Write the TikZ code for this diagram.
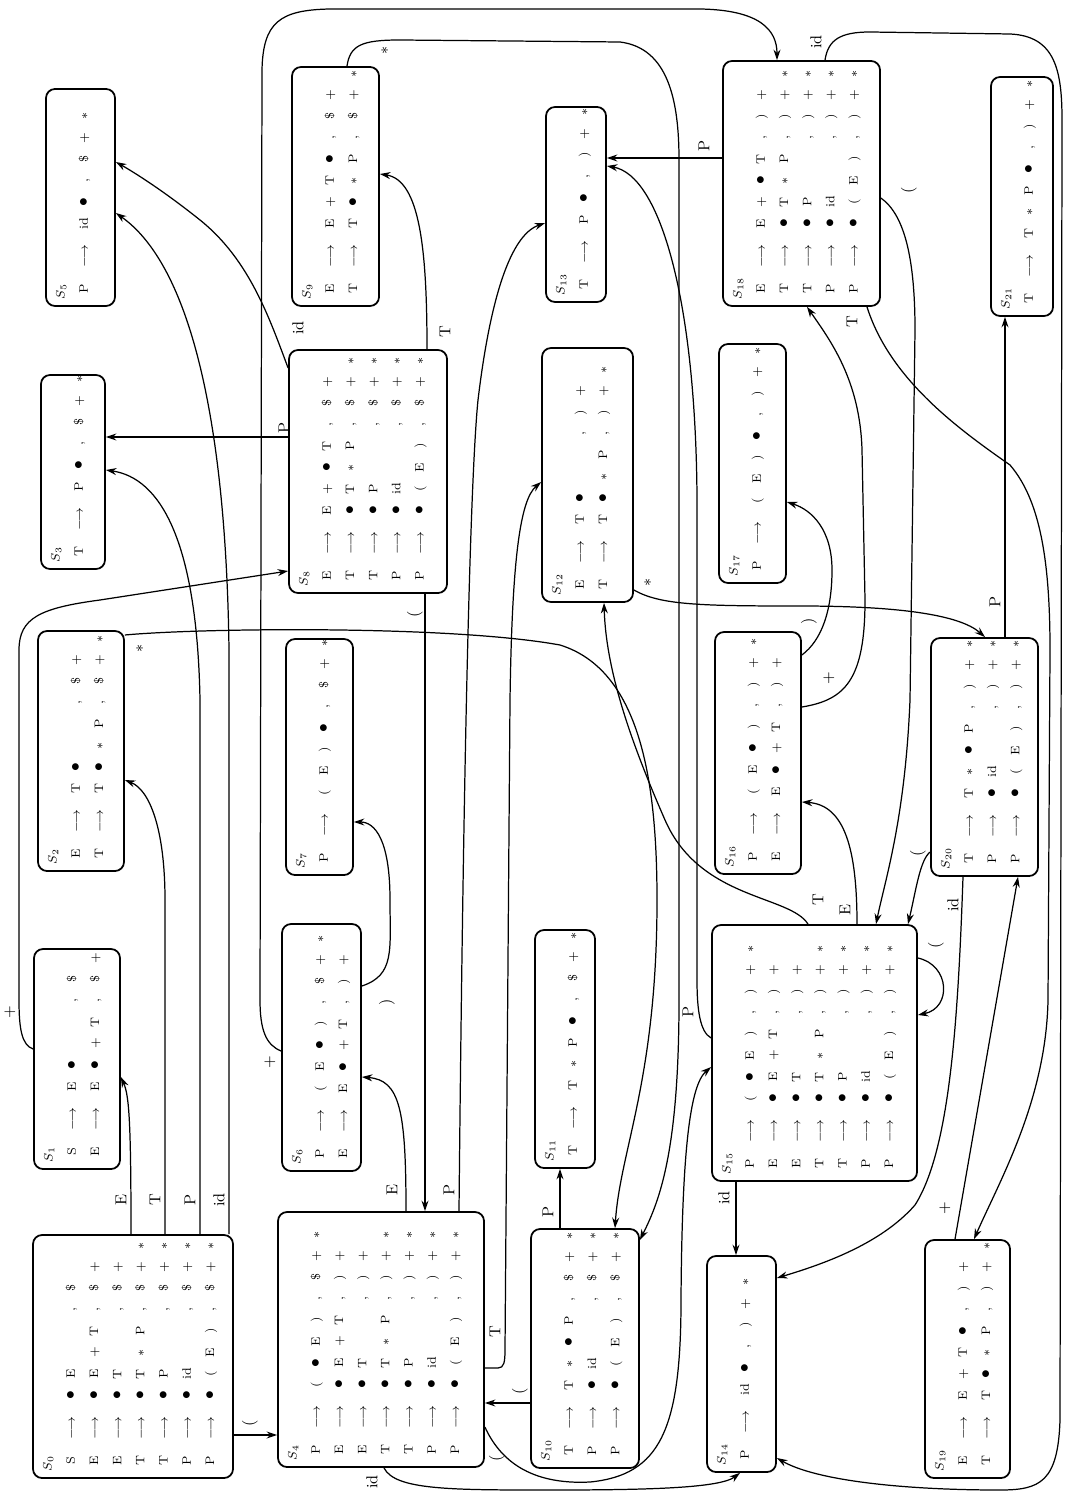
\documentclass[tikz,border=0pt]{standalone}
\usepackage{tikz}
\usetikzlibrary{arrows.meta, fit}

% item layout: LHS, arrow, four body slots, comma, three lookaheads
\newlength{\slw}
\setlength{\slw}{12.2pt}
\newcommand{\DOT}{{\normalsize$\bullet$}}
\newcommand{\STAR}{$*$}
\newcommand{\BL}{}
\newcommand{\cellx}[1]{\if\relax\detokenize{#1}\relax\else\makebox[\slw]{#1}\fi}
\newcommand{\itm}[8]{\makebox[\slw]{#1}\makebox[25pt]{$\longrightarrow$}\cellx{#2}\cellx{#3}\cellx{#4}\cellx{#5}\makebox[\slw]{,}\cellx{#6}\cellx{#7}\cellx{#8}}
\renewcommand{\arraystretch}{1.65}

\begin{document}
\begin{tikzpicture}[x=0.02cm, y=-0.02cm, >={Stealth[length=6pt,width=4pt]},
		state/.style={draw, line width=1pt, rounded corners=0.18cm, inner sep=0pt},
		items/.style={rotate=90, anchor=north west, inner sep=0pt, font=\scriptsize},
		lab/.style={rotate=90, inner sep=1pt, font=\small},
		tr/.style={->, line width=0.7pt}]

		\useasboundingbox (0,0) rectangle (1072,1496);

		% States, column 1
		\node[state, fit={(33,1235) (233,1478)}] (S0) {};
		\node[items] (S0t) at ([shift={(3,-7)}]S0.south west) {\begin{tabular}{@{}l@{}}$S_{0}$\\
			\itm{S}{\DOT}{E}{\BL}{\BL}{\$}{}{}\\
			\itm{E}{\DOT}{E}{+}{T}{\$}{+}{}\\
			\itm{E}{\DOT}{T}{\BL}{\BL}{\$}{+}{}\\
			\itm{T}{\DOT}{T}{\STAR}{P}{\$}{+}{\STAR}\\
			\itm{T}{\DOT}{P}{\BL}{\BL}{\$}{+}{\STAR}\\
			\itm{P}{\DOT}{id}{\BL}{\BL}{\$}{+}{\STAR}\\
			\itm{P}{\DOT}{(}{E}{)}{\$}{+}{\STAR}\end{tabular}};
		\node[state, fit={(34,949) (120,1169)}] (S1) {};
		\node[items] (S1t) at ([shift={(3,-7)}]S1.south west) {\begin{tabular}{@{}l@{}}$S_{1}$\\
			\itm{S}{E}{\DOT}{\BL}{\BL}{\$}{}{}\\
			\itm{E}{E}{\DOT}{+}{T}{\$}{+}{}\end{tabular}};
		\node[state, fit={(38,631) (124,871)}] (S2) {};
		\node[items] (S2t) at ([shift={(3,-7)}]S2.south west) {\begin{tabular}{@{}l@{}}$S_{2}$\\
			\itm{E}{T}{\DOT}{\BL}{\BL}{\$}{+}{}\\
			\itm{T}{T}{\DOT}{\STAR}{P}{\$}{+}{\STAR}\end{tabular}};
		\node[state, fit={(41,375) (105,569)}] (S3) {};
		\node[items] (S3t) at ([shift={(3,-7)}]S3.south west) {\begin{tabular}{@{}l@{}}$S_{3}$\\
			\itm{T}{P}{\DOT}{}{}{\$}{+}{\STAR}\end{tabular}};
		\node[state, fit={(46,89) (115,306)}] (S5) {};
		\node[items] (S5t) at ([shift={(3,-7)}]S5.south west) {\begin{tabular}{@{}l@{}}$S_{5}$\\
			\itm{P}{id}{\DOT}{}{}{\$}{+}{\STAR}\end{tabular}};

		% States, column 2
		\node[state, fit={(278,1212) (484,1467)}] (S4) {};
		\node[items] (S4t) at ([shift={(3,-7)}]S4.south west) {\begin{tabular}{@{}l@{}}$S_{4}$\\
			\itm{P}{(}{\DOT}{E}{)}{\$}{+}{\STAR}\\
			\itm{E}{\DOT}{E}{+}{T}{)}{+}{}\\
			\itm{E}{\DOT}{T}{\BL}{\BL}{)}{+}{}\\
			\itm{T}{\DOT}{T}{\STAR}{P}{)}{+}{\STAR}\\
			\itm{T}{\DOT}{P}{\BL}{\BL}{)}{+}{\STAR}\\
			\itm{P}{\DOT}{id}{\BL}{\BL}{)}{+}{\STAR}\\
			\itm{P}{\DOT}{(}{E}{)}{)}{+}{\STAR}\end{tabular}};
		\node[state, fit={(282,924) (361,1171)}] (S6) {};
		\node[items] (S6t) at ([shift={(3,-7)}]S6.south west) {\begin{tabular}{@{}l@{}}$S_{6}$\\
			\itm{P}{(}{E}{\DOT}{)}{\$}{+}{\STAR}\\
			\itm{E}{E}{\DOT}{+}{T}{)}{+}{}\end{tabular}};
		\node[state, fit={(286,639) (353,875)}] (S7) {};
		\node[items] (S7t) at ([shift={(3,-7)}]S7.south west) {\begin{tabular}{@{}l@{}}$S_{7}$\\
			\itm{P}{(}{E}{)}{\DOT}{\$}{+}{\STAR}\end{tabular}};
		\node[state, fit={(289,350) (447,593)}] (S8) {};
		\node[items] (S8t) at ([shift={(3,-7)}]S8.south west) {\begin{tabular}{@{}l@{}}$S_{8}$\\
			\itm{E}{E}{+}{\DOT}{T}{\$}{+}{}\\
			\itm{T}{\DOT}{T}{\STAR}{P}{\$}{+}{\STAR}\\
			\itm{T}{\DOT}{P}{\BL}{\BL}{\$}{+}{\STAR}\\
			\itm{P}{\DOT}{id}{\BL}{\BL}{\$}{+}{\STAR}\\
			\itm{P}{\DOT}{(}{E}{)}{\$}{+}{\STAR}\end{tabular}};
		\node[state, fit={(292,67) (379,306)}] (S9) {};
		\node[items] (S9t) at ([shift={(3,-7)}]S9.south west) {\begin{tabular}{@{}l@{}}$S_{9}$\\
			\itm{E}{E}{+}{T}{\DOT}{\$}{+}{}\\
			\itm{T}{T}{\DOT}{\STAR}{P}{\$}{+}{\STAR}\end{tabular}};

		% States, column 3
		\node[state, fit={(531,1229) (639,1468)}] (S10) {};
		\node[items] (S10t) at ([shift={(3,-7)}]S10.south west) {\begin{tabular}{@{}l@{}}$S_{10}$\\
			\itm{T}{T}{\STAR}{\DOT}{P}{\$}{+}{\STAR}\\
			\itm{P}{\DOT}{id}{\BL}{\BL}{\$}{+}{\STAR}\\
			\itm{P}{\DOT}{(}{E}{)}{\$}{+}{\STAR}\end{tabular}};
		\node[state, fit={(535,930) (595,1168)}] (S11) {};
		\node[items] (S11t) at ([shift={(3,-7)}]S11.south west) {\begin{tabular}{@{}l@{}}$S_{11}$\\
			\itm{T}{T}{\STAR}{P}{\DOT}{\$}{+}{\STAR}\end{tabular}};
		\node[state, fit={(542,348) (633,602)}] (S12) {};
		\node[items] (S12t) at ([shift={(3,-7)}]S12.south west) {\begin{tabular}{@{}l@{}}$S_{12}$\\
			\itm{E}{T}{\DOT}{\BL}{\BL}{)}{+}{}\\
			\itm{T}{T}{\DOT}{\STAR}{P}{)}{+}{\STAR}\end{tabular}};
		\node[state, fit={(546,107) (606,302)}] (S13) {};
		\node[items] (S13t) at ([shift={(3,-7)}]S13.south west) {\begin{tabular}{@{}l@{}}$S_{13}$\\
			\itm{T}{P}{\DOT}{}{}{)}{+}{\STAR}\end{tabular}};

		% States, column 4
		\node[state, fit={(707,1256) (776,1472)}] (S14) {};
		\node[items] (S14t) at ([shift={(3,-7)}]S14.south west) {\begin{tabular}{@{}l@{}}$S_{14}$\\
			\itm{P}{id}{\DOT}{}{}{)}{+}{\STAR}\end{tabular}};
		\node[state, fit={(712,925) (917,1181)}] (S15) {};
		\node[items] (S15t) at ([shift={(3,-7)}]S15.south west) {\begin{tabular}{@{}l@{}}$S_{15}$\\
			\itm{P}{(}{\DOT}{E}{)}{)}{+}{\STAR}\\
			\itm{E}{\DOT}{E}{+}{T}{)}{+}{}\\
			\itm{E}{\DOT}{T}{\BL}{\BL}{)}{+}{}\\
			\itm{T}{\DOT}{T}{\STAR}{P}{)}{+}{\STAR}\\
			\itm{T}{\DOT}{P}{\BL}{\BL}{)}{+}{\STAR}\\
			\itm{P}{\DOT}{id}{\BL}{\BL}{)}{+}{\STAR}\\
			\itm{P}{\DOT}{(}{E}{)}{)}{+}{\STAR}\end{tabular}};
		\node[state, fit={(715,632) (801,874)}] (S16) {};
		\node[items] (S16t) at ([shift={(3,-7)}]S16.south west) {\begin{tabular}{@{}l@{}}$S_{16}$\\
			\itm{P}{(}{E}{\DOT}{)}{)}{+}{\STAR}\\
			\itm{E}{E}{\DOT}{+}{T}{)}{+}{}\end{tabular}};
		\node[state, fit={(719,344) (786,583)}] (S17) {};
		\node[items] (S17t) at ([shift={(3,-7)}]S17.south west) {\begin{tabular}{@{}l@{}}$S_{17}$\\
			\itm{P}{(}{E}{)}{\DOT}{)}{+}{\STAR}\end{tabular}};
		\node[state, fit={(723,61) (880,306)}] (S18) {};
		\node[items] (S18t) at ([shift={(3,-7)}]S18.south west) {\begin{tabular}{@{}l@{}}$S_{18}$\\
			\itm{E}{E}{+}{\DOT}{T}{)}{+}{}\\
			\itm{T}{\DOT}{T}{\STAR}{P}{)}{+}{\STAR}\\
			\itm{T}{\DOT}{P}{\BL}{\BL}{)}{+}{\STAR}\\
			\itm{P}{\DOT}{id}{\BL}{\BL}{)}{+}{\STAR}\\
			\itm{P}{\DOT}{(}{E}{)}{)}{+}{\STAR}\end{tabular}};

		% States, column 5
		\node[state, fit={(925,1240) (1010,1478)}] (S19) {};
		\node[items] (S19t) at ([shift={(3,-7)}]S19.south west) {\begin{tabular}{@{}l@{}}$S_{19}$\\
			\itm{E}{E}{+}{T}{\DOT}{)}{+}{}\\
			\itm{T}{T}{\DOT}{\STAR}{P}{)}{+}{\STAR}\end{tabular}};
		\node[state, fit={(931,638) (1038,876)}] (S20) {};
		\node[items] (S20t) at ([shift={(3,-7)}]S20.south west) {\begin{tabular}{@{}l@{}}$S_{20}$\\
			\itm{T}{T}{\STAR}{\DOT}{P}{)}{+}{\STAR}\\
			\itm{P}{\DOT}{id}{\BL}{\BL}{)}{+}{\STAR}\\
			\itm{P}{\DOT}{(}{E}{)}{)}{+}{\STAR}\end{tabular}};
		\node[state, fit={(991,77) (1053,316)}] (S21) {};
		\node[items] (S21t) at ([shift={(3,-7)}]S21.south west) {\begin{tabular}{@{}l@{}}$S_{21}$\\
			\itm{T}{T}{\STAR}{P}{\DOT}{)}{+}{\STAR}\end{tabular}};

		% Transitions out of S0
		\draw[tr] (S0.north -| 131,0) .. controls (131,1120) and (129,1095) .. (S1.east |- 0,1077);
		\draw[tr] (S0.north -| 165,0) -- (165,900) .. controls (165,830) and (150,790) .. (S2.east |- 0,780);
		\draw[tr] (S0.north -| 200,0) -- (200,700) .. controls (197,540) and (160,478) .. (S3.east |- 0,470);
		\draw[tr] (S0.north -| 229,0) -- (229,650) .. controls (226,420) and (190,265) .. (S5.east |- 0,213);
		\draw[tr] (S0.east |- 0,1435) -- (S4.west |- 0,1435);
		\node[lab] (l0E) at (121,1200) {E};
		\node[lab] (l0T) at (155,1200) {T};
		\node[lab] (l0P) at (190,1200) {P};
		\node[lab] (l0id) at (219,1200) {id};
		\node[lab] (l0lp) at (250,1423) {(};

		% S1, S2, S9
		\draw[tr] (S1.west |- 0,1049) .. controls (22,1045) and (19,1030) .. (19,1000) -- (19,650) .. controls (19,618) and (40,608) .. (100,600) -- (S8.west |- 0,571);
		\draw[tr] (S2.east |- 0,635) .. controls (200,628) and (450,625) .. (560,645) .. controls (640,670) and (657,780) .. (657,900) .. controls (657,1080) and (620,1150) .. (S10.north -| 615,0);
		\draw[tr] (S9.north -| 347,0) .. controls (350,45) and (362,40) .. (400,40) -- (620,42) .. controls (668,48) and (679,100) .. (679,160) -- (679,1000) .. controls (679,1150) and (660,1200) .. (S10.east |- 0,1240);
		\node[lab] (l1p) at (10,1012) {+};
		\node[lab] (l2s) at (140,648) {\STAR};
		\node[lab] (l9s) at (385,50) {\STAR};

		% Transitions out of S4
		\draw[tr] (S4.north -| 406,0) .. controls (406,1110) and (400,1080) .. (S6.east |- 0,1077);
		\draw[tr] (S4.north -| 459,0) .. controls (462,900) and (468,500) .. (478,400) .. controls (490,300) and (510,235) .. (S13.west |- 0,223);
		\draw[tr] (S4.east |- 0,1368) -- (498,1368) .. controls (504,1368) and (505,1362) .. (505,1350) -- (510,700) .. controls (512,560) and (520,500) .. (S12.west |- 0,482);
		\draw[tr] (S4.south -| 384,0) .. controls (395,1490) and (450,1490) .. (550,1490) .. controls (650,1490) and (720,1488) .. (S14.south -| 740,0);
		\draw[tr] (S4.east |- 0,1427) .. controls (500,1460) and (530,1485) .. (590,1482) .. controls (660,1475) and (681,1430) .. (681,1300) .. controls (682,1150) and (690,1085) .. (S15.west |- 0,1067);
		\node[lab] (l4E) at (392,1190) {E};
		\node[lab] (l4P) at (449,1190) {P};
		\node[lab] (l4T) at (495,1332) {T};
		\node[lab] (l4id) at (372,1482) {id};
		\node[lab] (l4lp) at (497,1458) {(};

		% S6, S8, S10, S12
		\draw[tr] (S6.east |- 0,986) .. controls (395,975) and (390,950) .. (390,900) .. controls (390,840) and (375,822) .. (S7.east |- 0,822);
		\draw[tr] (S6.west |- 0,1051) .. controls (266,1045) and (260,1030) .. (260,1000) -- (262,70) .. controls (263,22) and (280,10) .. (330,9) -- (700,9) .. controls (760,10) and (777,30) .. (S18.north -| 777,0);
		\draw[tr] (S8.north -| 427,0) .. controls (427,250) and (420,180) .. (S9.east |- 0,174);
		\draw[tr] (S8.west |- 0,437) -- (S3.east |- 0,437);
		\draw[tr] (S8.west |- 0,368) .. controls (270,320) and (250,260) .. (200,220) .. controls (160,188) and (130,170) .. (S5.east |- 0,162);
		\draw[tr] (S8.south -| 425,0) -- (S4.north -| 425,0);
		\draw[tr] (S10.north -| 560,0) -- (S11.south -| 560,0);
		\draw[tr] (S10.west |- 0,1403) -- (S4.east |- 0,1403);
		\draw[tr] (S12.east |- 0,590) .. controls (660,605) and (700,606) .. (800,606) .. controls (900,606) and (960,615) .. (S20.north -| 985,0);
		\node[lab] (l6rp) at (387,1002) {)};
		\node[lab] (l6p) at (270,1062) {+};
		\node[lab] (l8id) at (298,328) {id};
		\node[lab] (l8T) at (445,332) {T};
		\node[lab] (l8P) at (284,428) {P};
		\node[lab] (l8lp) at (415,614) {(};
		\node[lab] (l10P) at (548,1212) {P};
		\node[lab] (l10lp) at (520,1391) {(};
		\node[lab] (l12s) at (648,582) {\STAR};

		% Transitions out of S15
		\draw[tr] (S15.north -| 857,0) .. controls (857,850) and (845,805) .. (S16.east |- 0,802);
		\draw[tr] (S15.north -| 808,0) .. controls (790,895) and (700,900) .. (665,820) .. controls (630,740) and (606,670) .. (S12.south -| 604,0);
		\draw[tr] (S15.west |- 0,1038) .. controls (700,1032) and (697,1010) .. (697,980) -- (697,500) .. controls (696,300) and (660,175) .. (S13.east |- 0,166);
		\draw[tr] (S15.south -| 736,0) -- (S14.north -| 736,0);
		\draw[tr] (S15.east |- 0,958) .. controls (950,965) and (952,1008) .. (S15.east |- 0,1015);
		\node[lab] (l15E) at (845,910) {E};
		\node[lab] (l15T) at (818,900) {T};
		\node[lab] (l15P) at (688,1012) {P};
		\node[lab] (l15id) at (724,1198) {id};
		\node[lab] (l15lp) at (936,945) {(};

		% S16, S18
		\draw[tr] (S16.east |- 0,655) .. controls (822,640) and (832,610) .. (832,570) .. controls (832,530) and (812,510) .. (S17.east |- 0,502);
		\draw[tr] (S16.east |- 0,707) .. controls (845,700) and (865,680) .. (865,600) -- (862,450) .. controls (860,380) and (830,340) .. (S18.south -| 807,0);
		\draw[tr] (S18.west |- 0,158) -- (S13.east |- 0,158);
		\draw[tr] (S18.north -| 825,0) .. controls (828,40) and (840,32) .. (870,32) -- (1010,34) .. controls (1055,36) and (1062,70) .. (1062,120) -- (1060,1420) .. controls (1058,1482) and (1040,1490) .. (1000,1490) .. controls (900,1490) and (815,1480) .. (S14.east |- 0,1458);
		\draw[tr] (S18.east |- 0,198) .. controls (905,215) and (915,260) .. (915,330) -- (910,700) .. controls (905,820) and (885,880) .. (S15.north -| 876,0);
		\draw[tr] (S18.south -| 867,0) .. controls (890,380) and (960,430) .. (1010,465) .. controls (1040,500) and (1050,560) .. (1050,650) -- (1048,1000) .. controls (1046,1100) and (1000,1180) .. (S19.north -| 974,0);
		\node[lab] (l16rp) at (809,621) {)};
		\node[lab] (l16p) at (829,678) {+};
		\node[lab] (l18P) at (704,146) {P};
		\node[lab] (l18id) at (816,42) {id};
		\node[lab] (l18lp) at (909,190) {(};
		\node[lab] (l18T) at (852,322) {T};

		% S19, S20
		\draw[tr] (S19.north -| 955,0) -- (S20.south -| 1018,0);
		\draw[tr] (S20.north -| 1005,0) -- (S21.south -| 1005,0);
		\draw[tr] (S20.south -| 963,0) .. controls (958,1020) and (950,1150) .. (915,1205) .. controls (880,1245) and (820,1265) .. (S14.east |- 0,1278);
		\draw[tr] (S20.west |- 0,852) .. controls (920,860) and (916,890) .. (S15.north -| 908,0);
		\node[lab] (l19p) at (945,1208) {+};
		\node[lab] (l20P) at (995,602) {P};
		\node[lab] (l20id) at (953,905) {id};
		\node[lab] (l20lp) at (918,853) {(};

	\end{tikzpicture}
\end{document}
